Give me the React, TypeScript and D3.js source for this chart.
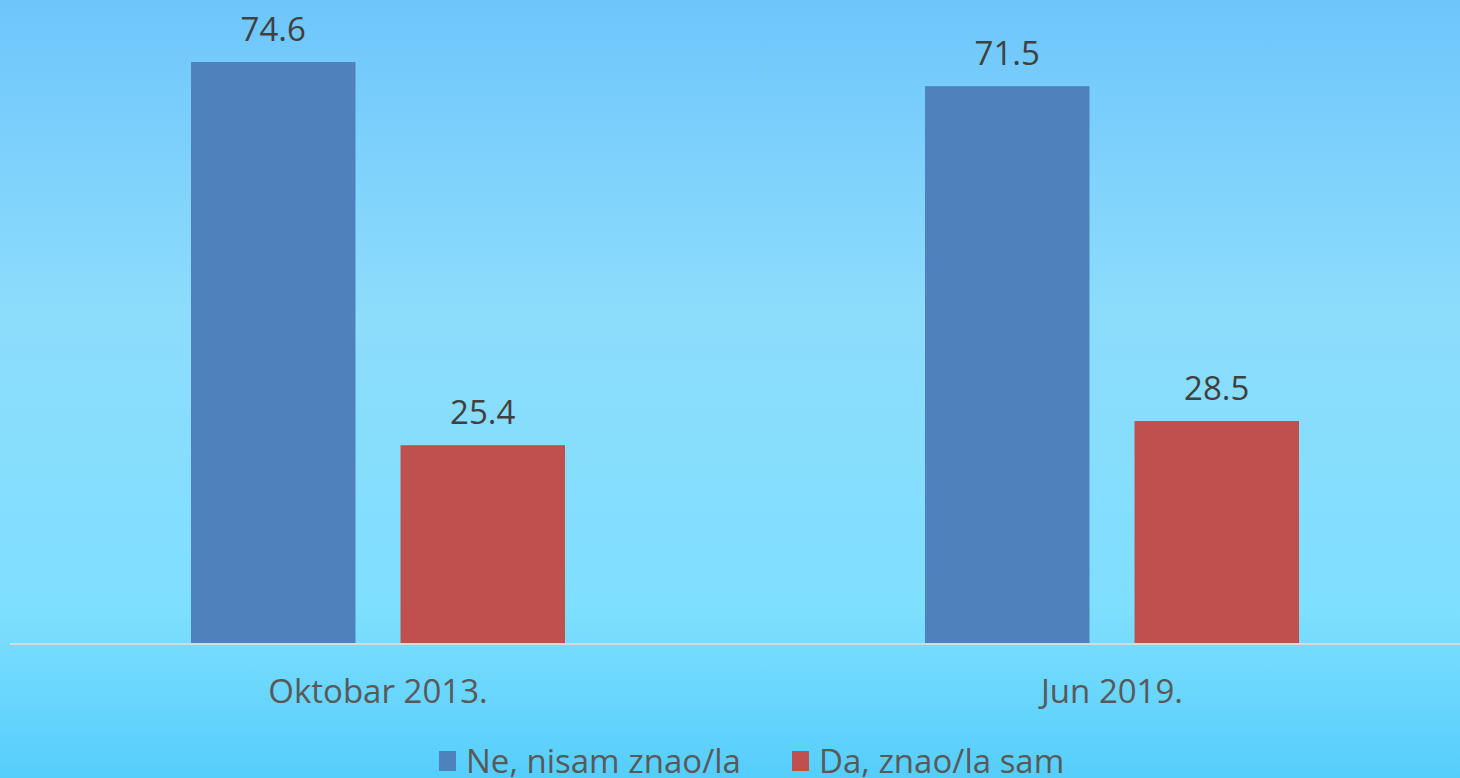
import React, { useEffect, useRef } from "react";
import * as d3 from "d3";

const categories = ["Oktobar 2013.", "Jun 2019."];
const seriesNames = ["Ne, nisam znao/la", "Da, znao/la sam"];
const seriesColors = ["#4F81BD", "#C0504D"];
const neValues = [74.6, 71.5];
const daValues = [25.4, 28.5];

const App: React.FC = () => {
  const svgRef = useRef<SVGSVGElement>(null);

  useEffect(() => {
    if (!svgRef.current) return;
    const svg = d3.select(svgRef.current);
    svg.selectAll("*").remove();

    const width = 1460;
    const height = 778;
    const font = "'Open Sans', 'Noto Sans', sans-serif";

    // background gradient
    const defs = svg.append("defs");
    const grad = defs
      .append("linearGradient")
      .attr("id", "bg")
      .attr("x1", 0)
      .attr("y1", 0)
      .attr("x2", 0)
      .attr("y2", 1);
    grad.append("stop").attr("offset", "0%").attr("stop-color", "#6DC6FB");
    grad.append("stop").attr("offset", "40%").attr("stop-color", "#8DDCFC");
    grad.append("stop").attr("offset", "78%").attr("stop-color", "#7FDFFE");
    grad.append("stop").attr("offset", "100%").attr("stop-color", "#55CEFB");

    svg
      .append("rect")
      .attr("width", width)
      .attr("height", height)
      .attr("fill", "url(#bg)");

    const x0 = d3.scaleBand().domain(categories).range([11, 1479]);
    const x1 = d3
      .scaleBand()
      .domain(seriesNames)
      .range([180, x0.bandwidth() - 180])
      .paddingInner(0.215);
    const y = d3.scaleLinear().domain([0, 80]).range([643, 20]);

    const series = [neValues, daValues];

    categories.forEach((cat, ci) => {
      series.forEach((vals, si) => {
        const bx = (x0(cat) ?? 0) + (x1(seriesNames[si]) ?? 0);
        const v = vals[ci];
        svg
          .append("rect")
          .attr("x", bx)
          .attr("y", y(v))
          .attr("width", x1.bandwidth())
          .attr("height", y(0) - y(v))
          .attr("fill", seriesColors[si]);

        svg
          .append("text")
          .attr("x", bx + x1.bandwidth() / 2)
          .attr("y", y(v) - 21)
          .attr("text-anchor", "middle")
          .style("font-family", font)
          .style("font-size", "33px")
          .style("fill", "#404040")
          .text(v.toFixed(1));
      });

      svg
        .append("text")
        .attr("x", (x0(cat) ?? 0) + x0.bandwidth() / 2)
        .attr("y", 703)
        .attr("text-anchor", "middle")
        .style("font-family", font)
        .style("font-size", "33px")
        .style("fill", "#595959")
        .text(cat);
    });

    // axis baseline
    svg
      .append("line")
      .attr("x1", 10)
      .attr("x2", width)
      .attr("y1", y(0) + 1)
      .attr("y2", y(0) + 1)
      .attr("stroke", "#D9D9D9")
      .attr("stroke-width", 2);

    // legend
    const legendX = [439, 792];
    seriesNames.forEach((name, i) => {
      const g = svg.append("g").attr("transform", `translate(${legendX[i]}, 761)`);
      g.append("rect")
        .attr("x", 0)
        .attr("y", -10)
        .attr("width", 17)
        .attr("height", 20)
        .attr("fill", seriesColors[i]);
      g.append("text")
        .attr("x", 27)
        .attr("y", 12)
        .style("font-family", font)
        .style("font-size", "33px")
        .style("fill", "#595959")
        .text(name);
    });
  }, []);

  return (
    <div style={{ position: "fixed", left: 0, top: 0, width: 1460, height: 778, overflow: "hidden" }}>
      <svg ref={svgRef} width={1460} height={778} style={{ display: "block" }} />
    </div>
  );
};

export default App;
